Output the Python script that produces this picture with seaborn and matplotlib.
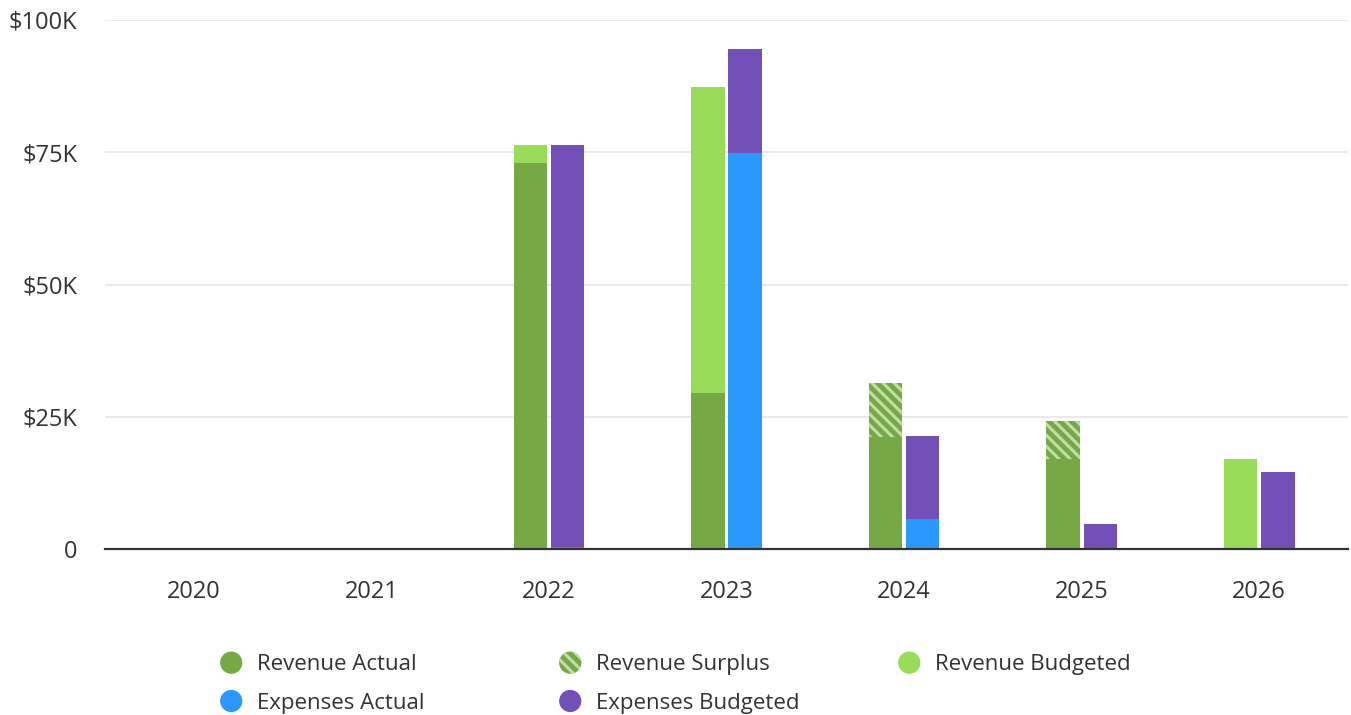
import numpy as np
import pandas as pd
import matplotlib.pyplot as plt
import seaborn as sns
from matplotlib.patches import Patch, Circle
from matplotlib.legend_handler import HandlerPatch
from matplotlib.ticker import FuncFormatter

# values, in dollars
years = ["2020", "2021", "2022", "2023", "2024", "2025", "2026"]
revenue_actual = [0, 0, 73000, 29500, 31400, 24200, 0]
revenue_budgeted = [0, 0, 76400, 87300, 21200, 17000, 17000]
expenses_actual = [0, 0, 400, 74900, 5700, 0, 0]
expenses_budgeted = [0, 0, 76400, 94500, 21400, 4700, 14600]

c_rev_act = "#76A846"
c_rev_bud = "#99DC5A"
c_surplus_light = "#C3DDA8"
c_exp_act = "#2A99FF"
c_exp_bud = "#7350B8"
text_col = "#333333"

sns.set_style("white")
plt.rcParams['font.family'] = ['Open Sans', 'DejaVu Sans']
plt.rcParams['hatch.linewidth'] = 2.2

ra = np.array(revenue_actual)
rb = np.array(revenue_budgeted)
ea = np.array(expenses_actual)
eb = np.array(expenses_budgeted)


def layer(rev, exp):
    return pd.DataFrame({
        "year": years * 2,
        "side": ["Revenue"] * len(years) + ["Expenses"] * len(years),
        "value": list(rev) + list(exp),
    })


fig = plt.figure(figsize=(13.51, 7.15), dpi=100)
ax = fig.add_axes([105 / 1351, 1 - 549 / 715, 1243 / 1351, 529 / 715])

bar_kw = dict(x="year", y="value", hue="side", hue_order=["Revenue", "Expenses"],
              width=0.42, gap=0.1, errorbar=None, legend=False, linewidth=0,
              saturation=1, ax=ax)

# 1. surplus (actual above budget), hatched
surplus_top = np.where(ra > rb, ra, 0)
n0 = len(ax.patches)
sns.barplot(data=layer(surplus_top, np.zeros(len(years))),
            palette={"Revenue": c_rev_act, "Expenses": c_rev_act}, **bar_kw)
for p in ax.patches[n0:]:
    p.set_hatch("\\\\\\")
    p.set_edgecolor(c_surplus_light)
    p.set_linewidth(0)

# 2. budgeted
sns.barplot(data=layer(rb, eb),
            palette={"Revenue": c_rev_bud, "Expenses": c_exp_bud}, **bar_kw)

# 3. actual (up to budget)
sns.barplot(data=layer(np.minimum(ra, rb), np.minimum(ea, eb)),
            palette={"Revenue": c_rev_act, "Expenses": c_exp_act}, **bar_kw)

ax.set_ylim(0, 100000)
ax.set_xlim(-0.5, 6.5)
ax.set_yticks([0, 25000, 50000, 75000, 100000])
ax.yaxis.set_major_formatter(FuncFormatter(lambda v, p: "0" if v == 0 else f"${int(v / 1000)}K"))
ax.grid(axis="y", color="#E6E6E6", linewidth=1.2)
ax.set_axisbelow(True)
for s in ["top", "right", "left"]:
    ax.spines[s].set_visible(False)
ax.spines["bottom"].set_color(text_col)
ax.spines["bottom"].set_linewidth(1.6)
ax.spines["bottom"].set_zorder(5)
ax.tick_params(axis="both", length=0, labelsize=17, labelcolor=text_col)
ax.tick_params(axis="y", pad=20)
ax.tick_params(axis="x", pad=22)
ax.set_xlabel("")
ax.set_ylabel("")


# legend with circular markers
def circle_patch(legend, orig_handle, xdescent, ydescent, width, height, fontsize):
    r = 8
    return Circle((width / 2 - xdescent, height / 2 - ydescent), r)


handler = HandlerPatch(patch_func=circle_patch)
columns = [
    [("Revenue Actual", Patch(facecolor=c_rev_act, linewidth=0)),
     ("Expenses Actual", Patch(facecolor=c_exp_act, linewidth=0))],
    [("Revenue Surplus", Patch(facecolor=c_rev_act, edgecolor=c_surplus_light, hatch="\\\\\\", linewidth=0)),
     ("Expenses Budgeted", Patch(facecolor=c_exp_bud, linewidth=0))],
    [("Revenue Budgeted", Patch(facecolor=c_rev_bud, linewidth=0))],
]
col_x = [219, 558, 897]
for cx, col in zip(col_x, columns):
    fig.legend([h for _, h in col], [l for l, _ in col],
               handler_map={Patch: handler},
               loc="upper left", bbox_to_anchor=(cx / 1351, 1 - 652 / 715),
               frameon=False, fontsize=16, labelcolor=text_col,
               handlelength=1.1, handleheight=1.1, handletextpad=0.6,
               labelspacing=0.68, borderpad=0, borderaxespad=0)

fig.savefig("out.png", dpi=100)
